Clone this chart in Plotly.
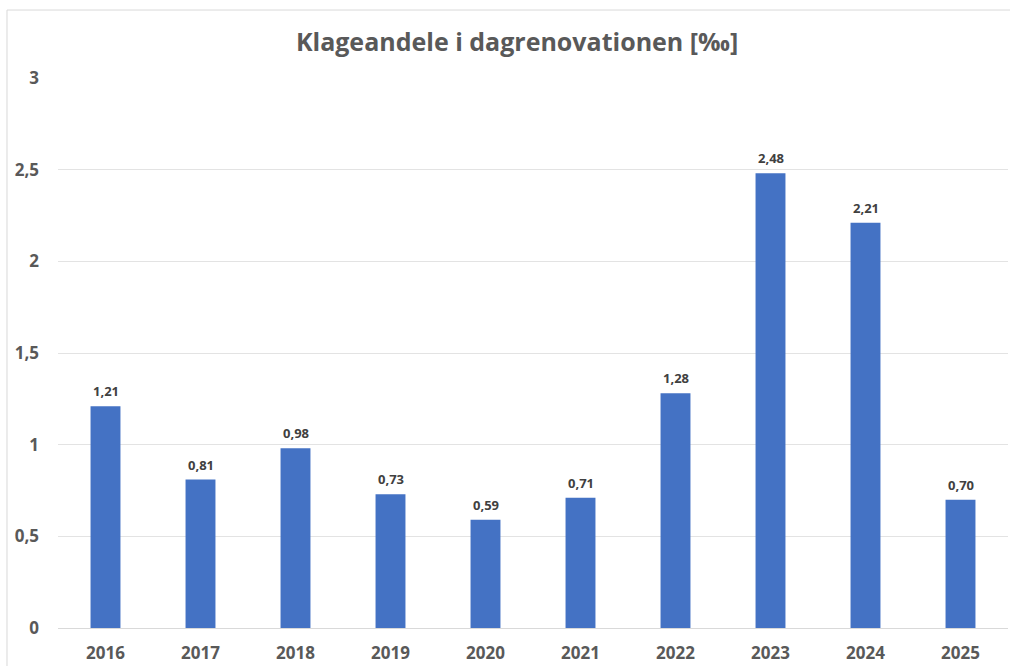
import plotly.graph_objects as go

years = ["2016", "2017", "2018", "2019", "2020", "2021", "2022", "2023", "2024", "2025"]
values = [1.21, 0.81, 0.98, 0.73, 0.59, 0.71, 1.28, 2.48, 2.21, 0.70]
y_ticks = [0, 0.5, 1, 1.5, 2, 2.5, 3]

FONT = "Open Sans"

fig = go.Figure(
    go.Bar(
        x=years,
        y=values,
        width=0.315,
        marker=dict(color="#4472C4", line=dict(width=0)),
        hoverinfo="x+y",
    )
)

# data labels: category index on the x axis, value on the y axis
annotations = [
    dict(
        x=i, y=v, xref="x", yref="y",
        text=f"{v:.2f}".replace(".", ","),
        showarrow=False, yanchor="middle", yshift=15,
        font=dict(family=FONT, size=13, color="#404040", weight="bold"),
    )
    for i, v in enumerate(values)
]

fig.update_layout(
    width=1010,
    height=666,
    margin=dict(l=58, r=2, t=78, b=38),
    paper_bgcolor="white",
    plot_bgcolor="white",
    separators=",.",
    showlegend=False,
    title=dict(
        text="Klageandele i dagrenovationen [‰]",
        x=0.512, xref="container", xanchor="center",
        y=0.937, yref="container", yanchor="middle",
        font=dict(family=FONT, size=25, color="#595959", weight="bold"),
    ),
    xaxis=dict(
        type="category",
        categoryorder="array",
        categoryarray=years,
        range=[-0.5, len(years) - 0.5],
        showgrid=False,
        showline=False,
        ticks="",
        tickfont=dict(family=FONT, size=17, color="#595959", weight="bold"),
        ticklabelstandoff=13,
    ),
    yaxis=dict(
        range=[0, 3],
        tickvals=y_ticks,
        showgrid=True,
        gridcolor="#E3E3E3",
        gridwidth=1,
        zeroline=True,
        zerolinecolor="#D9D9D9",
        zerolinewidth=1,
        showline=False,
        ticks="",
        tickfont=dict(family=FONT, size=17, color="#595959", weight="bold"),
        ticklabelstandoff=18,
    ),
    annotations=annotations,
    shapes=[
        dict(type="line", xref="paper", yref="paper",
             x0=-0.0537, x1=-0.0537, y0=-0.1, y1=1.1236,
             line=dict(color="#D9D9D9", width=1)),
        dict(type="line", xref="paper", yref="paper",
             x0=-0.0537, x1=1.1, y0=1.1236, y1=1.1236,
             line=dict(color="#D9D9D9", width=1)),
    ],
)

fig.write_html(
    "out.html",
    config={"displayModeBar": False},
    post_script="document.body.style.margin='0';document.body.style.overflow='hidden';",
)
